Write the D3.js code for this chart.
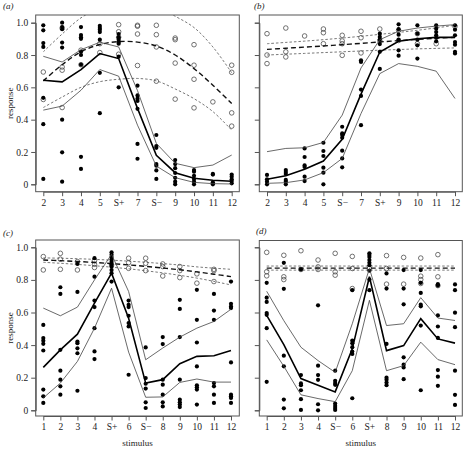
<!DOCTYPE html>
<html><head><meta charset="utf-8">
<script src="https://cdn.jsdelivr.net/npm/d3@7"></script>
<style>body{margin:0;background:#fff}svg{display:block}text{font-family:"Liberation Serif","DejaVu Serif",serif;}</style>
</head><body><svg id="c" width="464" height="450"></svg>
<script>
// ---------- categories ----------
const aLabels = ["2","3","4","5","S+","7","S\u2212","9","10","11","12"];
const bLabels = ["2","3","4","5","S\u2212","7","S+","9","10","11","12"];
const cLabels = ["1","2","3","4","S+","6","S\u2212","8","9","10","11","12"];
const dLabels = ["1","2","3","4","S\u2212","6","S+","8","9","10","11","12"];
const yTicks = [0, 0.2, 0.4, 0.6, 0.8, 1.0];

// ---------- panel (a) ----------
const aFilled = [
 [0.984,0.953,0.874,0.850,0.535,0.372,0.033],
 [1.0,0.973,0.96,0.877,0.846,0.40,0.198,0.016],
 [0.973,0.924,0.91,0.90,0.82,0.80,0.74,0.17,0.095],
 [0.98,0.967,0.957,0.942,0.895,0.69,0.44],
 [0.93,0.91,0.895,0.88,0.87,0.79,0.60],
 [0.61,0.55,0.53,0.516,0.467,0.25,0.158],
 [0.305,0.237,0.226,0.125,0.115,0.086,0.033],
 [0.15,0.125,0.1,0.07,0.04,0.016,0],
 [0.088,0.078,0.053,0.033,0.016,0],
 [0.064,0.06,0.012,0],
 [0.06,0.047,0.031,0.02,0.006]
];
const aOpen = [
 [0.695,0.525],[0.967,0.726,0.706,0.475],[0.83,0.74],[0.87,0.815],
 [0.988,0.944,0.91,0.805],[0.984,0.978,0.93,0.735],[0.984,0.926,0.85,0.638],
 [0.905,0.895,0.75,0.527],[0.864,0.737,0.65,0.473],[0.51],[0.737,0.693,0.442,0.36]
];
const aMean  = [0.644,0.634,0.71,0.809,0.778,0.47,0.18,0.072,0.037,0.025,0.019];
const aUpper = [0.792,0.757,0.833,0.879,0.85,0.58,0.253,0.13,0.103,0.119,0.181];
const aLower = [0.459,0.484,0.582,0.71,0.669,0.366,0.113,0.041,0.012,0.004,0.002];
const aOpenMean  = [0.64,0.74,0.82,0.865,0.883,0.88,0.856,0.80,0.716,0.613,0.50];
const aOpenUpper = [0.82,0.93,1.03,1.09,1.12,1.12,1.10,1.04,0.97,0.85,0.69];
const aOpenLower = [0.475,0.54,0.60,0.635,0.65,0.655,0.64,0.59,0.53,0.45,0.335];

// ---------- panel (b) ----------
const bFilled = [
 [0.058,0.031,0.016,0],
 [0.088,0.076,0.064,0.027,0.016,0],
 [0.222,0.169,0.117,0.107,0.047,0.02],
 [0.257,0.206,0.175,0.103,0.072,0],
 [0.356,0.315,0.305,0.288,0.208,0.16,0.105],
 [0.767,0.757,0.586,0.547,0.366],
 [0.932,0.912,0.895,0.868,0.82,0.714],
 [0.99,0.96,0.926,0.895,0.829,0.796],
 [0.984,0.932,0.895,0.86,0.778],
 [0.984,0.963,0.942,0.922,0.907,0.885],
 [0.984,0.957,0.922,0.88,0.864,0.82,0.81]
];
const bOpen = [
 [0.932,0.80,0.747],[0.967,0.82,0.788],[0.918],[0.961,0.938,0.87],
 [0.922,0.887,0.87,0.798],[0.947,0.907,0.813],[0.961,0.89],[0.953,0.89],
 [0.932,0.87],[0.87],[0.977]
];
const bMean  = [0.031,0.053,0.093,0.144,0.278,0.558,0.819,0.885,0.901,0.909,0.909];
const bUpper = [0.202,0.222,0.226,0.259,0.428,0.72,0.895,0.947,0.967,0.979,0.988];
const bLower = [0.006,0.01,0.027,0.072,0.16,0.438,0.685,0.747,0.73,0.70,0.531];
const bOpenMean  = [0.835,0.842,0.849,0.856,0.864,0.872,0.881,0.889,0.897,0.904,0.91];
const bOpenUpper = [0.87,0.878,0.886,0.895,0.905,0.916,0.928,0.94,0.953,0.968,0.984];
const bOpenLower = [0.80,0.805,0.81,0.815,0.82,0.825,0.83,0.834,0.838,0.841,0.844];

// ---------- panel (c) ----------
const cFilled = [
 [0.524,0.443,0.427,0.408,0.367,0.127,0.086,0.045],
 [0.755,0.714,0.371,0.243,0.188,0.147,0.096],
 [0.898,0.726,0.422,0.412,0.38,0.35,0.12],
 [0.933,0.82,0.673,0.633,0.504,0.361,0.314],
 [0.969,0.955,0.94,0.925,0.91,0.895,0.88,0.86,0.841,0.79],
 [0.673,0.647,0.633,0.58,0.535,0.514,0.218],
 [0.386,0.198,0.163,0.133,0.049,0.014],
 [0.449,0.406,0.188,0.157,0.096,0.049,0.024],
 [0.678,0.622,0.449,0.188,0.065,0.049,0.035,0.02],
 [0.739,0.555,0.416,0.269,0.153,0.141,0.127,0.035],
 [0.714,0.612,0.555,0.167,0.147,0.096,0.045],
 [0.79,0.653,0.637,0.627,0.294,0.096,0.086,0.076,0.045]
];
const cOpen = [
 [0.943,0.861],[0.963,0.927,0.865],[0.912,0.861],[0.918,0.896,0.876],[0.892],
 [0.933,0.906,0.871],[0.933,0.902,0.857],[0.898,0.882,0.824],[0.882,0.857,0.814],
 [0.837,0.78],[0.865,0.857,0.79],[]
];
const cMean  = [0.263,0.371,0.467,0.657,0.841,0.565,0.167,0.188,0.286,0.331,0.335,0.367];
const cUpper = [0.627,0.58,0.633,0.8,0.957,0.729,0.31,0.382,0.449,0.504,0.545,0.62];
const cLower = [0.076,0.167,0.3,0.504,0.749,0.357,0.08,0.082,0.171,0.192,0.173,0.173];
const cOpenMean  = [0.922,0.918,0.913,0.907,0.9,0.892,0.883,0.873,0.862,0.849,0.835,0.82];
const cOpenUpper = [0.935,0.933,0.93,0.926,0.921,0.915,0.908,0.9,0.891,0.88,0.872,0.865];
const cOpenLower = [0.908,0.902,0.895,0.887,0.878,0.868,0.856,0.843,0.828,0.811,0.791,0.769];

// ---------- panel (d) ----------
const dFilled = [
 [0.782,0.691,0.665,0.597,0.586,0.504,0.175],
 [0.905,0.745,0.335,0.27,0.066,0.012],
 [0.864,0.216,0.165,0.154,0.123,0.068,0.002],
 [0.644,0.274,0.216,0.187,0.037,0],
 [0.243,0.181,0.167,0.156,0.041,0.027,0.014,0.002],
 [0.737,0.428,0.412,0.387,0.36,0.346,0.074],
 [0.963,0.952,0.94,0.922,0.905,0.89,0.856,0.802,0.737],
 [0.84,0.747,0.407,0.2,0.187,0.17,0.154],
 [0.86,0.747,0.65,0.325,0.28,0.263,0.191],
 [0.86,0.782,0.72,0.648,0.638,0.52,0.123],
 [0.774,0.765,0.582,0.514,0.444,0.247,0.206,0.15],
 [0.772,0.737,0.599,0.51,0.243,0.095,0.033]
];
const dOpen = [
 [0.969,0.85,0.825],[0.951,0.819,0.802],[0.979,0.864],[0.922,0.88,0.864],
 [0.963,0.85,0.829],[0.944,0.87,0.747],[0.87],[0.949,0.87,0.774],[0.938,0.774],
 [0.934,0.823,0.802,0.778],[0.955,0.819,0.765],[]
];
const dMean  = [0.582,0.403,0.195,0.154,0.113,0.377,0.819,0.366,0.397,0.562,0.438,0.412];
const dUpper = [0.73,0.55,0.387,0.305,0.233,0.531,0.87,0.52,0.531,0.691,0.566,0.551];
const dLower = [0.432,0.27,0.095,0.072,0.053,0.243,0.675,0.243,0.274,0.418,0.311,0.28];
const dOpenMean  = [0.872,0.872,0.872,0.872,0.872,0.872,0.872,0.872,0.872,0.872,0.872,0.872];
const dOpenUpper = [0.885,0.885,0.885,0.885,0.885,0.885,0.885,0.885,0.885,0.885,0.885,0.885];
const dOpenLower = [0.86,0.86,0.86,0.86,0.86,0.86,0.86,0.86,0.86,0.86,0.86,0.86];

// ---------- layout ----------
const panels = [
 {tag:"a", labels:aLabels, filled:aFilled, open:aOpen, mean:aMean, upper:aUpper, lower:aLower,
  oMean:aOpenMean, oUpper:aOpenUpper, oLower:aOpenLower, smooth:true,
  box:[35.7,15,239.3,191.7], xr:[43.3,231.7], yr:[184.3,22.7], yLab:true, xTitle:false, tagPos:[3,8.5]},
 {tag:"b", labels:bLabels, filled:bFilled, open:bOpen, mean:bMean, upper:bUpper, lower:bLower,
  oMean:bOpenMean, oUpper:bOpenUpper, oLower:bOpenLower, smooth:true,
  box:[259.3,15,462.3,191.7], xr:[267,455], yr:[184.3,22.7], yLab:false, xTitle:false, tagPos:[254,8.5]},
 {tag:"c", labels:cLabels, filled:cFilled, open:cOpen, mean:cMean, upper:cUpper, lower:cLower,
  oMean:cOpenMean, oUpper:cOpenUpper, oLower:cOpenLower, smooth:true,
  box:[35.7,240,239.3,416], xr:[43.3,231], yr:[410.3,247.3], yLab:true, xTitle:true, tagPos:[3,236]},
 {tag:"d", labels:dLabels, filled:dFilled, open:dOpen, mean:dMean, upper:dUpper, lower:dLower,
  oMean:dOpenMean, oUpper:dOpenUpper, oLower:dOpenLower, smooth:false,
  box:[259.3,240.5,462.3,416], xr:[266.7,455], yr:[410.3,247.3], yLab:false, xTitle:true, tagPos:[256,234]}
];

const svg = d3.select("#c");
const FS = 9.5;

panels.forEach((p, pi) => {
  const [x0,y0,x1,y1] = p.box;
  const x = d3.scalePoint().domain(p.labels).range(p.xr);
  const y = d3.scaleLinear().domain([0,1]).range(p.yr);
  const g = svg.append("g");

  const clipId = "clip" + pi;
  svg.append("clipPath").attr("id", clipId).append("rect")
    .attr("x", x0).attr("y", y0).attr("width", x1-x0).attr("height", y1-y0);
  const inner = g.append("g").attr("clip-path", `url(#${clipId})`);

  // open circles
  p.open.forEach((vals, i) => {
    inner.selectAll(null).data(vals).enter().append("circle")
      .attr("cx", x(p.labels[i])).attr("cy", d => y(d)).attr("r", 2.3)
      .attr("fill", "none").attr("stroke", "#444").attr("stroke-width", 0.75);
  });

  const mk = (arr, curve) => d3.line()
    .x((d,i) => x(p.labels[i])).y(d => y(d)).curve(curve)(arr);
  const sc = p.smooth ? d3.curveCatmullRom : d3.curveLinear;

  // open-group fits
  [p.oUpper, p.oLower].forEach(arr => {
    inner.append("path").attr("d", mk(arr, sc)).attr("fill","none")
      .attr("stroke","#555").attr("stroke-width",0.8).attr("stroke-dasharray","2.5,2");
  });
  inner.append("path").attr("d", mk(p.oMean, sc)).attr("fill","none")
    .attr("stroke","#111").attr("stroke-width",1.4).attr("stroke-dasharray","5,3");

  // filled points
  p.filled.forEach((vals, i) => {
    inner.selectAll(null).data(vals).enter().append("circle")
      .attr("cx", x(p.labels[i])).attr("cy", d => y(d)).attr("r", 2.1)
      .attr("fill", "#000");
  });

  // filled-group fits
  [p.upper, p.lower].forEach(arr => {
    inner.append("path").attr("d", mk(arr, d3.curveLinear)).attr("fill","none")
      .attr("stroke","#444").attr("stroke-width",0.8);
  });
  inner.append("path").attr("d", mk(p.mean, d3.curveLinear)).attr("fill","none")
    .attr("stroke","#000").attr("stroke-width",1.6);

  // box
  g.append("rect").attr("x", x0).attr("y", y0).attr("width", x1-x0).attr("height", y1-y0)
    .attr("fill","none").attr("stroke","#555").attr("stroke-width",1);

  // axes
  const ya = d3.axisLeft(y).tickValues(yTicks).tickSize(4.5).tickPadding(3)
    .tickFormat(d => p.yLab ? (d === 0 ? "0" : d.toFixed(1)) : "");
  const yg = g.append("g").attr("transform", `translate(${x0},0)`).call(ya);
  const xa = d3.axisBottom(x).tickSize(4.5).tickPadding(3).tickSizeOuter(0);
  const xg = g.append("g").attr("transform", `translate(0,${y1})`).call(xa);
  [yg, xg].forEach(ax => {
    ax.select(".domain").attr("stroke","#555");
    ax.selectAll(".tick line").attr("stroke","#555");
    ax.selectAll("text").attr("font-size", FS).attr("fill","#222")
      .attr("font-family","Liberation Serif");
  });

  // titles
  g.append("text").attr("x", p.tagPos[0]).attr("y", p.tagPos[1]).attr("font-size", 9)
    .attr("font-style","italic").attr("fill","#222").text(`(${p.tag})`);
  if (p.yLab) {
    g.append("text").attr("transform", `translate(13,${(y0+y1)/2}) rotate(-90)`)
      .attr("text-anchor","middle").attr("font-size", 9).attr("fill","#222").text("response");
  }
  if (p.xTitle) {
    g.append("text").attr("x", (x0+x1)/2).attr("y", 446).attr("text-anchor","middle")
      .attr("font-size", 9).attr("fill","#222").text("stimulus");
  }
});
</script></body></html>
